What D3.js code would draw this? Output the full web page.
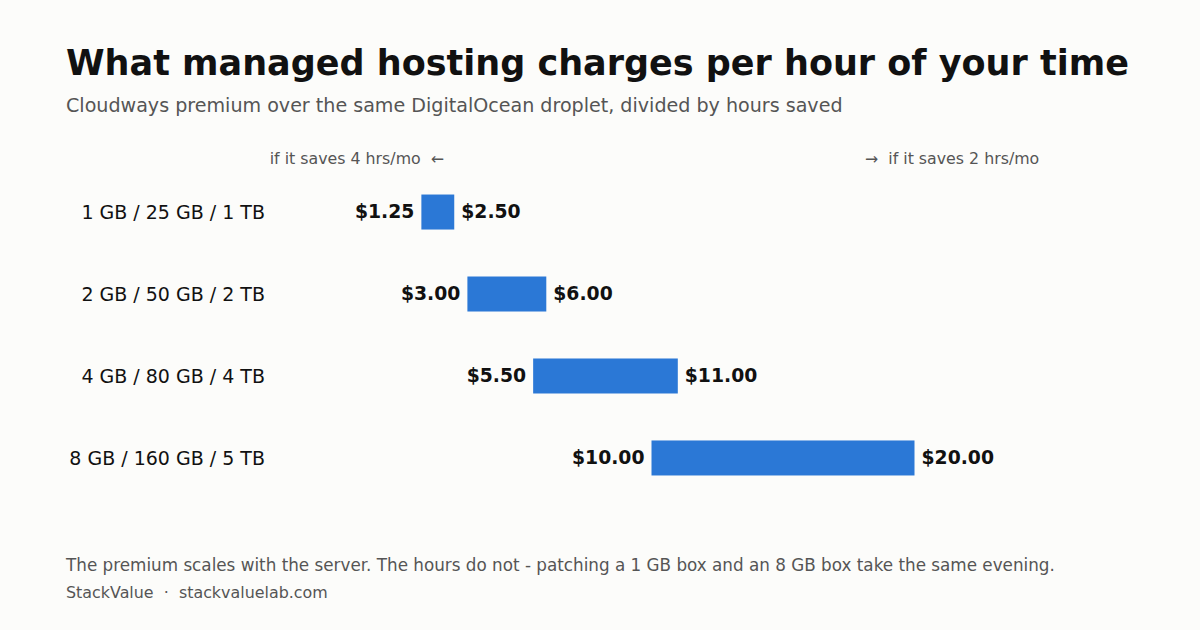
<!DOCTYPE html>
<html><head><meta charset="utf-8">
<script src="https://cdn.jsdelivr.net/npm/d3@7/dist/d3.min.js"></script>
<style>html,body{margin:0;padding:0;background:#fcfcfa;}svg{display:block;font-family:"DejaVu Sans",sans-serif;}text{white-space:pre;}</style>
</head><body>
<svg id="c" width="1200" height="630"></svg>
<script>
const categories = ["1 GB / 25 GB / 1 TB","2 GB / 50 GB / 2 TB","4 GB / 80 GB / 4 TB","8 GB / 160 GB / 5 TB"];
const low4hrs = [1.25, 3.00, 5.50, 10.00];
const high2hrs = [2.50, 6.00, 11.00, 20.00];
const title = "What managed hosting charges per hour of your time";
const subtitle = "Cloudways premium over the same DigitalOcean droplet, divided by hours saved";
const leftNote = "if it saves 4 hrs/mo  ←";
const rightNote = "→  if it saves 2 hrs/mo";
const note = "The premium scales with the server. The hours do not - patching a 1 GB box and an 8 GB box take the same evening.";
const source = "StackValue  ·  stackvaluelab.com";

const svg = d3.select("#c");
svg.append("rect").attr("width",1200).attr("height",630).attr("fill","#fcfcfa");

const x = d3.scaleLinear().domain([0,25]).range([388.5,1046]);
const y = d3.scaleBand().domain(categories).range([171,499]).paddingInner(0.573).paddingOuter(0.287);

svg.append("text").attr("x",66).attr("y",75).attr("font-size",35).attr("font-weight","bold").attr("fill","#111").text(title);
svg.append("text").attr("x",66).attr("y",112).attr("font-size",19.1).attr("fill","#555").text(subtitle);

svg.append("text").attr("x",444).attr("y",164).attr("text-anchor","end").attr("font-size",15.8).attr("fill","#555").text(leftNote);
svg.append("text").attr("x",865).attr("y",164).attr("font-size",15.8).attr("fill","#555").text(rightNote);

const data = categories.map((c,i)=>({c, lo:low4hrs[i], hi:high2hrs[i]}));
const fmt = d => "$" + d3.format(".2f")(d);

const g = svg.append("g");
const base = d => y(d.c)+y.bandwidth()/2+7;
g.selectAll("text.cat").data(data).join("text").attr("class","cat")
  .attr("x",265).attr("y",base).attr("text-anchor","end")
  .attr("font-size",19).attr("fill","#111").text(d=>d.c);
g.selectAll("rect.bar").data(data).join("rect").attr("class","bar")
  .attr("x",d=>x(d.lo)).attr("width",d=>x(d.hi)-x(d.lo))
  .attr("y",d=>y(d.c)).attr("height",y.bandwidth()).attr("fill","#2b78d6");
g.selectAll("text.lo").data(data).join("text").attr("class","lo")
  .attr("x",d=>x(d.lo)-7).attr("y",d=>base(d)-1).attr("text-anchor","end")
  .attr("font-size",18.8).attr("font-weight","bold").attr("fill","#111").text(d=>fmt(d.lo));
g.selectAll("text.hi").data(data).join("text").attr("class","hi")
  .attr("x",d=>x(d.hi)+7).attr("y",d=>base(d)-1)
  .attr("font-size",18.8).attr("font-weight","bold").attr("fill","#111").text(d=>fmt(d.hi));

svg.append("text").attr("x",66).attr("y",571).attr("font-size",16.8).attr("fill","#555").text(note);
svg.append("text").attr("x",66).attr("y",598).attr("font-size",15.9).attr("fill","#555").text(source);
</script>
</body></html>
